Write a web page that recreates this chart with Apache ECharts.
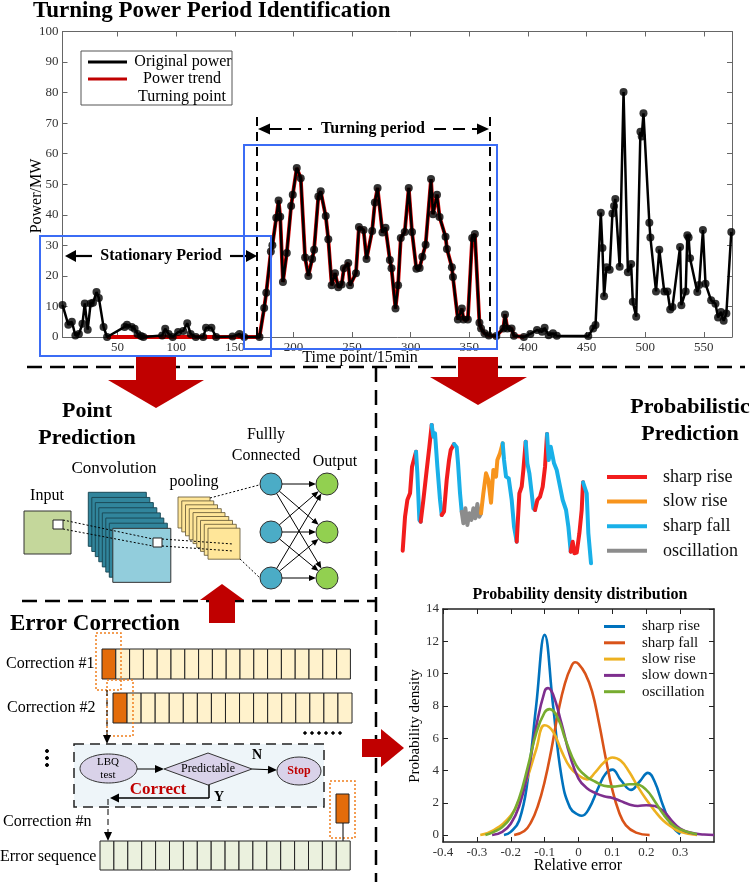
<!DOCTYPE html>
<html>
<head>
<meta charset="utf-8" />
<style>
  html, body { margin: 0; padding: 0; background: #fff; }
  #main { width: 754px; height: 882px; }
</style>
</head>
<body>
<div id="main"></div>
<script src="https://cdn.jsdelivr.net/npm/echarts@6/dist/echarts.min.js"></script>
<script>
const SERIF = '"Liberation Serif", "Times New Roman", serif';

// ---- Turning power period identification: [time point (15 min), power MW]
const originalPower = [
  [3,10.5],[8,4],[11,5],[14,0.5],[17,1],[20,4.3],[22,11],[24.5,2.4],[27,11],[29,11.2],[32,14.7],[34,12.8],
  [38,3.3],[41,0],[56,3.3],[58,4],[62,3.3],[64.5,2.7],[67,1],[70,0.3],[72,0],[88,0.5],[90.6,2.7],[93.5,1],
  [97,0],[101.6,1.6],[106,2],[109.4,4.5],[112.3,1],[116.7,0],[123,0],[125.4,3],[130,3],[134,0],[148,0.2],
  [154,1],[158,0],[171,0],[175,9.5],[176.8,14.5],[180.7,28],[182,30],[185.3,39],[187.3,44.7],[188.7,39.4],
  [191,18],[194.3,27.5],[198,42.9],[199.4,46.6],[202.8,55.3],[206.2,52],[209.9,26],[212.7,20],[215.9,25.5],
  [217.6,28.6],[221.2,46],[223.2,47.7],[227.5,39.6],[229.7,32],[232.6,16.9],[235.4,20.9],[238.2,16.3],
  [241.1,17.2],[243,22.5],[246.7,24.2],[248.2,16.9],[253.3,20.9],[255.8,36],[259.8,35],[262.3,25.5],
  [267.1,34.7],[269.4,44],[271.7,48.8],[275.9,34.2],[278.5,35.8],[282.2,25.2],[283.6,22.5],[287,9.3],
  [289.2,16.9],[291.5,32.4],[294.9,34.4],[298.3,48.8],[301.1,34.4],[304.8,22.3],[307.6,22.6],[309.9,26.3],
  [312.7,30.2],[317.3,51.7],[319,40.2],[322.4,46.6],[324.6,39.3],[329.7,32.8],[330.9,28.8],[335.1,22.8],
  [336,19.6],[340.2,5.7],[343.6,9.3],[345,5.7],[348.7,5.7],[352.4,32.4],[354.7,33.7],[358.6,4.7],[360,2.8],
  [362.9,1.2],[366.6,0.5],[373,0.3],[379,2.8],[380.4,7.4],[382.4,2.8],[386,2.8],[388,0.4],[396.5,0],
  [402,1],[407.7,2.3],[412,1.7],[414.2,3],[417.6,0.6],[421.3,1.2],[424.6,0.4],[451.4,0.3],[455.6,2.8],
  [457.6,3.9],[462.1,40.7],[463.5,29.1],[464.9,13.3],[466.9,22.8],[469.7,22],[472,40.4],[473.4,42.9],
  [474.5,45.2],[478.2,23],[481.5,80.2],[485.2,21.2],[488,23.9],[489.4,11.5],[492.3,6.6],[495.9,67.2],
  [497,65.6],[498.5,73.2],[503.5,37.4],[504.4,32.6],[509.2,14.9],[512,28.6],[516.2,14.9],[519,14.9],
  [521.3,9],[523.2,9.8],[529.7,29.5],[530.8,10.4],[534.5,14.9],[535.9,33.3],[537,32.6],[538.2,25.8],
  [544.4,14.7],[546,17],[549.2,35],[551.4,17.4],[556.2,12],[559.9,10.9],[562.1,6.4],[564.6,8.2],
  [566.9,5.3],[569.2,7.7],[573.4,34.4]
];
const trendFlat = [[41, 0], [171, 0]];   // trend stays at zero before the turning period
const trendEnd = 397;
const timeTicks = [50, 100, 150, 200, 250, 300, 350, 400, 450, 500, 550];
const powerTicks = [0, 10, 20, 30, 40, 50, 60, 70, 80, 90, 100];

// ---- probabilistic prediction sketch (arbitrary units)
const predX = [68,75,82,90,96,100,104,108,112,118,122,130,140,148,155,160,165,172,180,185,192,200,207,212,
  222,230,234,240,245,250,256,262,268,274,280,286,292,298,303,310,318,325,333,340,348,352,360,368,372,378,
  386,395,402,410,418,425,430,437,442,448,455,460,465,472,480,488,495,501,506,512,518,522,530,540,548,558,
  565,572,578,583,590,598,605,609,615,620,625,633];
const predY = [40,142,192,212,292,294,322,337,272,132,127,192,282,352,417,382,392,292,192,147,157,252,312,342,
  360,350,302,212,157,122,167,117,152,132,167,137,180,142,152,212,272,252,184,282,262,312,332,362,312,262,
  257,192,112,67,212,232,282,367,302,272,212,167,162,192,202,232,292,390,312,352,347,302,282,232,192,162,
  112,37,67,32,34,92,162,245,247,212,92,2];
const predState = 'RRRRRRRFFFRRRRFFFFFRRRRRFFFFOOOOOOOOOOSSSSSSSSSFFFFFFRRRRFFFFFRRRRRFFFFFFFFFFRRRRRRFFFFF'.split('');
const predNames = { R: 'sharp rise', S: 'slow rise', F: 'sharp fall', O: 'oscillation' };
const predColors = { R: '#f21d1d', S: '#f7941d', F: '#19b0e8', O: '#8c8c8c' };

// ---- probability density of relative error
const errTicks = [-0.4, -0.3, -0.2, -0.1, 0, 0.1, 0.2, 0.3];
const densTicks = [0, 2, 4, 6, 8, 10, 12, 14];
const densSharpRise = [[-0.22,0],[-0.2,0.2],[-0.175,0.9],[-0.15,3.4],[-0.125,8.0],[-0.1,12.4],[-0.075,8.0],
  [-0.05,3.6],[-0.025,1.7],[0,1.25],[0.01,1.2],[0.03,1.6],[0.06,3.0],[0.08,3.8],[0.1,4.05],[0.125,3.4],
  [0.155,2.8],[0.18,3.3],[0.205,3.85],[0.225,3.3],[0.25,1.8],[0.275,0.6],[0.3,0.05]];
const densSharpFall = [[-0.19,0],[-0.16,0.25],[-0.14,0.8],[-0.12,1.8],[-0.1,3.3],[-0.08,5.3],[-0.06,7.6],
  [-0.04,9.4],[-0.02,10.5],[-0.01,10.7],[0,10.6],[0.02,10.0],[0.04,8.9],[0.06,7.0],[0.08,4.8],[0.1,2.8],
  [0.12,1.4],[0.14,0.6],[0.17,0.15],[0.21,0]];
const densSlowRise = [[-0.29,0],[-0.25,0.3],[-0.2,1.2],[-0.175,2.2],[-0.15,3.6],[-0.125,5.3],[-0.1,6.8],
  [-0.075,6.4],[-0.05,5.2],[-0.025,4.2],[0,3.7],[0.025,3.45],[0.05,3.9],[0.075,4.5],[0.1,4.8],[0.125,4.6],
  [0.15,3.9],[0.175,3.0],[0.2,2.2],[0.225,1.5],[0.25,0.9],[0.275,0.5],[0.3,0.2],[0.35,0]];
const densSlowDown = [[-0.255,0],[-0.225,0.2],[-0.2,0.7],[-0.175,1.8],[-0.15,3.8],[-0.125,6.7],[-0.1,8.9],
  [-0.09,9.1],[-0.075,8.7],[-0.05,6.9],[-0.025,4.9],[0,3.5],[0.025,2.9],[0.05,2.6],[0.075,2.4],[0.1,2.3],
  [0.125,2.1],[0.15,1.9],[0.175,1.8],[0.2,1.85],[0.225,1.8],[0.25,1.5],[0.275,0.9],[0.3,0.4],[0.33,0.15],
  [0.37,0.03],[0.4,0]];
const densOscillation = [[-0.275,0],[-0.25,0.2],[-0.225,0.5],[-0.2,1.1],[-0.175,2.3],[-0.15,4.2],[-0.125,6.3],
  [-0.1,7.6],[-0.085,7.8],[-0.06,7.2],[-0.04,6.0],[-0.02,4.9],[0,4.1],[0.025,3.6],[0.05,3.3],[0.075,3.05],
  [0.1,3.0],[0.125,3.05],[0.15,3.15],[0.17,3.15],[0.2,2.8],[0.225,2.1],[0.25,1.3],[0.275,0.7],[0.3,0.35],
  [0.35,0.05]];

// trend line: flat zero, then follows the turning points
const powerTrend = trendFlat.concat(originalPower.filter(p => p[0] > trendFlat[1][0] && p[0] <= trendEnd));

// split the prediction path into coloured runs
const predSeries = [];
let run = null;
for (let i = 0; i < predX.length; i++) {
  const st = predState[i];
  const pt = [predX[i], predY[i]];
  if (!run || run.st !== st) {
    if (run) run.data.push(pt);
    run = { st: st, data: [] };
    predSeries.push(run);
  }
  run.data.push(pt);
}

// ---------- graphic helpers
const g = [];
function T(x, y, s, size, o) {
  o = o || {};
  g.push({ type: 'text', x: x, y: y, rotation: o.rot || 0, z: 60,
    style: { text: s, fontFamily: SERIF, fontSize: size, fontWeight: o.bold ? 'bold' : 'normal',
      fill: o.color || '#000', align: o.align || 'center', verticalAlign: 'middle' } });
}
function L(x1, y1, x2, y2, o) {
  o = o || {};
  g.push({ type: 'line', z: o.z || 50, shape: { x1: x1, y1: y1, x2: x2, y2: y2 },
    style: { stroke: o.color || '#000', lineWidth: o.w || 1, lineDash: o.dash || null } });
}
function P(pts, fill, o) {
  o = o || {};
  g.push({ type: 'polygon', z: o.z || 50, shape: { points: pts },
    style: { fill: fill, stroke: o.stroke || null, lineWidth: o.w || 1 } });
}
function R(x, y, w, h, o) {
  o = o || {};
  g.push({ type: 'rect', z: o.z || 50, shape: { x: x, y: y, width: w, height: h },
    style: { fill: o.fill || 'none', stroke: o.stroke || null, lineWidth: o.w || 1, lineDash: o.dash || null } });
}
function C(cx, cy, r, o) {
  g.push({ type: 'circle', z: 50, shape: { cx: cx, cy: cy, r: r },
    style: { fill: o.fill, stroke: o.stroke || '#333', lineWidth: o.w || 1 } });
}
function E(cx, cy, rx, ry, o) {
  g.push({ type: 'ellipse', z: 50, shape: { cx: cx, cy: cy, rx: rx, ry: ry },
    style: { fill: o.fill, stroke: o.stroke || '#333', lineWidth: o.w || 1 } });
}
function head(x1, y1, x2, y2, len, half, color) {
  const a = Math.atan2(y2 - y1, x2 - x1);
  const bx = x2 - len * Math.cos(a), by = y2 - len * Math.sin(a);
  const nx = -Math.sin(a) * half, ny = Math.cos(a) * half;
  P([[x2, y2], [bx + nx, by + ny], [bx - nx, by - ny]], color || '#000');
}
function A(x1, y1, x2, y2, o) {
  o = o || {};
  const len = o.len || 7, half = o.half || 3;
  const a = Math.atan2(y2 - y1, x2 - x1);
  L(x1, y1, x2 - len * 0.8 * Math.cos(a), y2 - len * 0.8 * Math.sin(a), o);
  head(x1, y1, x2, y2, len, half, o.color);
}

// ---------- top panel decorations
T(33, 11, 'Turning Power Period Identification', 23, { bold: true, align: 'left' });
T(37, 196, 'Power/MW', 16, { rot: Math.PI / 2 });
T(360, 358, 'Time point/15min', 16);
// legend box
R(81, 51, 151, 54, { fill: '#fff', stroke: '#555', z: 55 });
L(88, 62, 127, 62, { w: 3, z: 56 });
L(88, 79, 127, 79, { w: 3, color: '#c00000', z: 56 });
C(109, 97, 3, { fill: '#fff', stroke: '#000', w: 2.2 });
T(183, 62, 'Original power', 16);
T(182, 79, 'Power trend', 16);
T(182, 97, 'Turning point', 16);
// turning period
L(257, 117, 257, 337, { w: 2, dash: [9, 6] });
L(490, 117, 490, 337, { w: 2, dash: [9, 6] });
head(280, 129, 258, 129, 12, 5.5);
L(270, 129, 312, 129, { w: 2, dash: [12, 7] });
T(373, 129, 'Turning period', 16, { bold: true });
L(434, 129, 478, 129, { w: 2, dash: [12, 7] });
head(460, 129, 489, 129, 12, 5.5);
// stationary period
head(90, 256, 65, 256, 11, 6);
L(75, 256, 92, 256, { w: 2.2 });
T(161, 256, 'Stationary Period', 16, { bold: true });
L(230, 256, 246, 256, { w: 2.2 });
head(230, 256, 257, 256, 11, 6);
// blue boxes
R(40, 236, 231, 120, { stroke: '#3b6cf5', w: 2 });
R(244, 145, 253, 204, { stroke: '#3b6cf5', w: 2 });

// ---------- separators and red arrows
L(27, 367, 745, 367, { w: 2.5, dash: [15, 8] });
L(376, 367, 376, 882, { w: 2.5, dash: [15, 8] });
L(22, 601, 376, 601, { w: 2.5, dash: [15, 8] });
const RED = '#c00000';
R(136, 357, 40, 24, { fill: RED });
P([[108, 380], [204, 380], [156, 408]], RED);
R(458, 357, 40, 21, { fill: RED });
P([[430, 377], [527, 377], [478, 405]], RED);
R(209, 599, 26, 24, { fill: RED });
P([[200, 600], [244, 600], [222, 584]], RED);
R(362, 739, 20, 18, { fill: RED });
P([[381, 729], [381, 767], [404, 748]], RED);

// ---------- point prediction (CNN sketch)
T(87, 411, 'Point', 22, { bold: true });
T(87, 438, 'Prediction', 22, { bold: true });
T(47, 496, 'Input', 16);
T(114, 469, 'Convolution', 17);
T(194, 482, 'pooling', 16);
T(266, 435, 'Fullly', 16);
T(266, 456, 'Connected', 16);
T(335, 462, 'Output', 16);
R(24, 511, 47, 43, { fill: '#c4d79b', stroke: '#333' });
R(53, 520, 10, 9, { fill: '#fff', stroke: '#222' });
for (let i = 0; i < 8; i++) {
  R(88.3 + i * 3.5, 492.3 + i * 5.15, 58, 54,
    { fill: i < 7 ? '#31859c' : '#92cddc', stroke: i < 7 ? '#1b4a58' : '#333' });
}
R(153, 538, 9, 9, { fill: '#fff', stroke: '#222' });
for (let i = 0; i < 9; i++) {
  R(178 + i * 3.75, 497 + i * 3.9, 32, 31, { fill: '#ffe699', stroke: '#5d5030', w: 0.8 });
}
const dot = [2, 2];
L(63, 520, 153, 539, { dash: dot });
L(63, 529, 153, 546, { dash: dot });
L(162, 539, 233, 544, { dash: dot });
L(162, 546, 233, 551, { dash: dot });
L(210, 498, 259, 485, { dash: dot });
L(240, 559, 260, 578, { dash: dot });
const nodeY = [484, 532, 578];
nodeY.forEach(function (y) {
  C(271, y, 11, { fill: '#4bacc6' });
  C(327, y, 11, { fill: '#92d050' });
});
nodeY.forEach(function (y1) {
  nodeY.forEach(function (y2) {
    const dx = 56, dy = y2 - y1, d = Math.sqrt(dx * dx + dy * dy);
    A(271 + 11 * dx / d, y1 + 11 * dy / d, 327 - 11 * dx / d, y2 - 11 * dy / d, { len: 7, half: 3 });
  });
});

// ---------- error correction
T(10, 624, 'Error Correction', 23, { bold: true, align: 'left' });
function cells(x0, y0, n, cw, h, fill, first) {
  for (let i = 0; i < n; i++) {
    R(x0 + i * cw, y0, cw, h, { fill: i === 0 && first ? first : fill, stroke: '#222' });
  }
}
T(6, 664, 'Correction #1', 16, { align: 'left' });
cells(102, 649, 18, 13.8, 30, '#fff2cc', '#e36c0a');
T(7, 708, 'Correction #2', 16, { align: 'left' });
cells(113, 693, 17, 14.06, 30, '#fff2cc', '#e36c0a');
R(96, 633, 25, 57, { stroke: '#f07f1e', dash: [2, 2], w: 1.5 });
R(107, 680, 26, 56, { stroke: '#f07f1e', dash: [2, 2], w: 1.5 });
for (let k = 0; k < 6; k++) C(305 + k * 7, 733, 1.3, { fill: '#000', stroke: '#000' });
for (let k = 0; k < 3; k++) C(47, 751 + k * 7, 1.5, { fill: '#000', stroke: '#000' });
A(107, 690, 107, 744, { dash: [6, 4], len: 9, half: 4 });
R(74, 744, 250, 63, { fill: '#eef5f9', stroke: '#222', dash: [10, 6], w: 1.5 });
E(108.5, 768.5, 28.5, 14.5, { fill: '#d9d2e9' });
T(108, 762, 'LBQ', 11);
T(108, 775, 'test', 11);
A(137, 769, 164, 769, { len: 9, half: 4 });
P([[164, 769], [208, 753], [252, 769], [208, 785]], '#d9d2e9', { stroke: '#333' });
T(208, 769, 'Predictable', 12);
A(252, 769, 277, 770, { len: 9, half: 4 });
E(299, 771, 22, 14, { fill: '#d9d2e9' });
T(299, 771, 'Stop', 12, { bold: true, color: RED });
T(257, 755, 'N', 14, { bold: true });
L(209, 785, 209, 798, { w: 1.5 });
L(209, 798, 117, 798, { w: 1.5 });
head(209, 798, 110, 798, 9, 4.5);
T(219, 797, 'Y', 14, { bold: true });
T(158, 790, 'Correct', 17, { bold: true, color: RED });
T(3, 822, 'Correction #n', 16, { align: 'left' });
R(330, 781, 25, 57, { stroke: '#f07f1e', dash: [2, 2], w: 1.5 });
R(336, 794, 13, 29, { fill: '#e36c0a', stroke: '#222' });
L(343, 823, 343, 841);
A(108, 799, 108, 841, { dash: [6, 4], len: 9, half: 4 });
T(0, 857, 'Error sequence', 16, { align: 'left' });
cells(100, 841, 18, 13.9, 29, '#ebf1de');

// ---------- probabilistic prediction texts and density labels
T(690, 407, 'Probabilistic', 22, { bold: true });
T(690, 434, 'Prediction', 22, { bold: true });
T(580, 595, 'Probability density distribution', 16, { bold: true });
T(415, 726, 'Probability density', 15, { rot: Math.PI / 2 });
T(578, 866, 'Relative error', 16);

// ---------- axes
function boxAxis(grid, min, max, ticks, pos, labels, fmt, fontSize) {
  return {
    type: 'value', gridIndex: grid, min: min, max: max, position: pos,
    axisLine: { show: true, onZero: false, lineStyle: { color: grid === 0 ? '#666' : '#222', width: grid === 0 ? 1 : 1.5 } },
    axisTick: { show: true, inside: true, length: 5, customValues: ticks, lineStyle: { color: grid === 0 ? '#666' : '#222' } },
    axisLabel: { show: labels, customValues: ticks, fontFamily: SERIF, fontSize: fontSize || 13, color: '#333',
      margin: 4, formatter: fmt },
    splitLine: { show: false }
  };
}
const errFmt = v => (Math.abs(v) < 1e-9 ? '0' : (Math.round(v * 10) / 10).toFixed(1));

const series = [
  { name: 'Power trend', type: 'line', xAxisIndex: 0, yAxisIndex: 0, data: powerTrend, symbol: 'none',
    clip: false, lineStyle: { color: '#d40000', width: 3.8 }, itemStyle: { color: '#d40000' }, z: 2 },
  { name: 'Original power', type: 'line', xAxisIndex: 0, yAxisIndex: 0, data: originalPower, symbol: 'none',
    clip: false, lineStyle: { color: '#000', width: 2.5 }, itemStyle: { color: '#000' }, z: 3 },
  { name: 'Turning point', type: 'scatter', xAxisIndex: 0, yAxisIndex: 0, data: originalPower,
    symbolSize: 8, itemStyle: { color: '#000' }, z: 4 }
];
predSeries.forEach(function (r) {
  series.push({ name: predNames[r.st], type: 'line', xAxisIndex: 2, yAxisIndex: 2, data: r.data,
    symbol: 'none', lineStyle: { color: predColors[r.st], width: 4, cap: 'round', join: 'round' },
    itemStyle: { color: predColors[r.st] } });
});
// density names carry a trailing space so they do not merge with the prediction legend entries
const densNames = ['sharp rise ', 'sharp fall ', 'slow rise ', 'slow down ', 'oscillation '];
[
  [densSharpRise, '#0072bd'],
  [densSharpFall, '#d95319'],
  [densSlowRise, '#edb120'],
  [densSlowDown, '#7e2f8e'],
  [densOscillation, '#77ac30']
].forEach(function (s, i) {
  series.push({ name: densNames[i], type: 'line', xAxisIndex: 3, yAxisIndex: 3, data: s[0], smooth: 0.45,
    symbol: 'none', lineStyle: { color: s[1], width: 2.6 }, itemStyle: { color: s[1] } });
});

const chart = echarts.init(document.getElementById('main'));
chart.setOption({
  animation: false,
  backgroundColor: '#fff',
  textStyle: { fontFamily: SERIF },
  grid: [
    { left: 62.5, top: 31.5, width: 669.5, height: 305.5 },
    { left: 401.7, top: 425, width: 190, height: 139 },
    { left: 443, top: 609, width: 271, height: 233 }
  ],
  legend: [
    { data: ['sharp rise', 'slow rise', 'sharp fall', 'oscillation'], orient: 'vertical', left: 602, top: 463,
      icon: 'rect', itemWidth: 40, itemHeight: 4, itemGap: 6.6, selectedMode: false,
      textStyle: { fontFamily: SERIF, fontSize: 18, lineHeight: 18, color: '#111', padding: [0, 0, 0, 11] } },
    { data: densNames, orient: 'vertical',
      left: 599, top: 614, icon: 'rect', itemWidth: 21, itemHeight: 3, itemGap: 1.3, selectedMode: false,
      textStyle: { fontFamily: SERIF, fontSize: 15, lineHeight: 15, color: '#111', padding: [0, 0, 0, 12] } }
  ],
  xAxis: [
    boxAxis(0, 3, 574, timeTicks, 'bottom', true),
    boxAxis(0, 3, 574, timeTicks, 'top', false),
    { type: 'value', gridIndex: 1, min: 65, max: 635, show: false },
    boxAxis(2, -0.4, 0.4, errTicks, 'bottom', true, errFmt, 13),
    boxAxis(2, -0.4, 0.4, errTicks, 'top', false)
  ],
  yAxis: [
    boxAxis(0, 0, 100, powerTicks, 'left', true),
    boxAxis(0, 0, 100, powerTicks, 'right', false),
    { type: 'value', gridIndex: 1, min: 0, max: 417, show: false },
    boxAxis(2, -0.43, 14, densTicks, 'left', true, null, 13),
    boxAxis(2, -0.43, 14, densTicks, 'right', false)
  ],
  series: series,
  graphic: g
});
</script>
</body>
</html>
